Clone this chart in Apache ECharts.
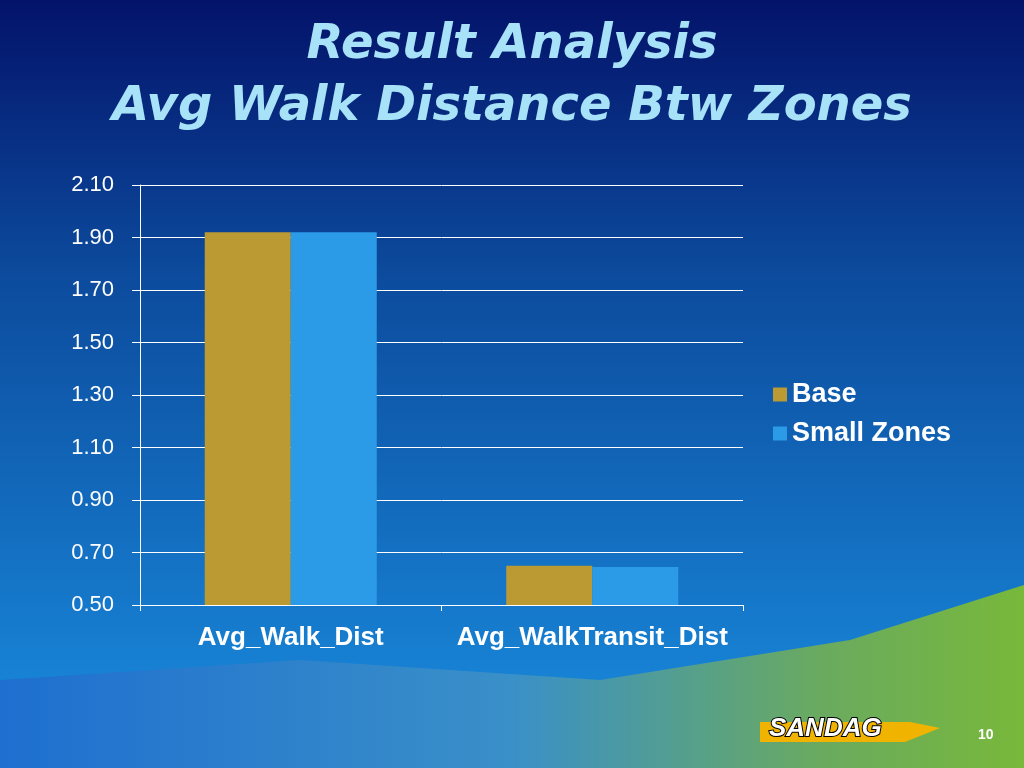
<!DOCTYPE html>
<html><head><meta charset="utf-8">
<script src="https://cdn.jsdelivr.net/npm/echarts@6/dist/echarts.min.js"></script>
<style>html,body{margin:0;padding:0;}#c{width:1024px;height:768px;}</style>
</head><body><div id="c"></div>
<script>
const categories = ['Avg_Walk_Dist', 'Avg_WalkTransit_Dist'];
const baseValues = [1.92, 0.65];
const smallZoneValues = [1.92, 0.645];
const chart = echarts.init(document.getElementById('c'));
chart.setOption({
  backgroundColor: {type:'linear',x:0,y:0,x2:0,y2:1,colorStops:[{offset:0,color:'#03136a'},{offset:0.35,color:'#0c4a9c'},{offset:1,color:'#1a8ee0'}]},
  graphic: [
    {type:'polygon', z:-1, shape:{points:[[0,768],[0,680],[300,660],[600,680],[850,640],[1024,585],[1024,768]]}, style:{fill:{type:'linear',x:0,y:0,x2:1,y2:0,colorStops:[{offset:0,color:'#1e6fd0'},{offset:0.5,color:'#3a90c8'},{offset:0.8,color:'#6aaa60'},{offset:1,color:'#78b83a'}]}}},
    {type:'text', left:'center', top:22, style:{text:'Result Analysis', font:'oblique bold 48px "DejaVu Sans"', fill:'#a8e2f8', shadowColor:'#000', shadowOffsetX:3, shadowOffsetY:3, shadowBlur:1}},
    {type:'text', left:'center', top:84, style:{text:'Avg Walk Distance Btw Zones', font:'oblique bold 48px "DejaVu Sans"', fill:'#a8e2f8', shadowColor:'#000', shadowOffsetX:3, shadowOffsetY:3, shadowBlur:1}},
    {type:'polygon', shape:{points:[[760,722],[910,722],[940,728],[905,742],[760,742]]}, style:{fill:'#f0b400'}},
    {type:'text', left:768, top:715, style:{text:'SANDAG', font:'italic bold 26px "Liberation Sans", Arial', fill:'#fff', stroke:'#000', lineWidth:2}},
    {type:'text', left:978, top:728, style:{text:'10', font:'bold 14px "Liberation Sans", Arial', fill:'#fff'}}
  ],
  legend: {orient:'vertical', left:768, top:376, itemWidth:14, itemHeight:14, itemGap:12, icon:'rect',
    textStyle:{color:'#fff', fontSize:27, fontFamily:'Liberation Sans, Arial', fontWeight:'bold'}},
  grid: {left:140, right:281, top:185, bottom:163},
  xAxis: {type:'category', data:categories, axisLine:{lineStyle:{color:'#fff'}}, axisTick:{show:true,length:6,lineStyle:{color:'#fff'}},
    axisLabel:{interval:0, color:'#fff', fontSize:26, fontFamily:'Liberation Sans, Arial', fontWeight:'bold', margin:20}},
  yAxis: {type:'value', min:0.5, max:2.1, interval:0.2, axisLine:{show:true,lineStyle:{color:'#fff'}}, axisTick:{show:true,length:8,lineStyle:{color:'#fff'}}, splitLine:{lineStyle:{color:'#fff'}},
    axisLabel:{color:'#fff', fontSize:22, fontFamily:'Liberation Sans, Arial', margin:26, formatter:v=>v.toFixed(2)}},
  series: [
    {name:'Base', type:'bar', data:baseValues, itemStyle:{color:'#bb9a33'}, barWidth:86, barGap:'0%'},
    {name:'Small Zones', type:'bar', data:smallZoneValues, itemStyle:{color:'#2b9be8'}, barWidth:86}
  ]
});
</script></body></html>
